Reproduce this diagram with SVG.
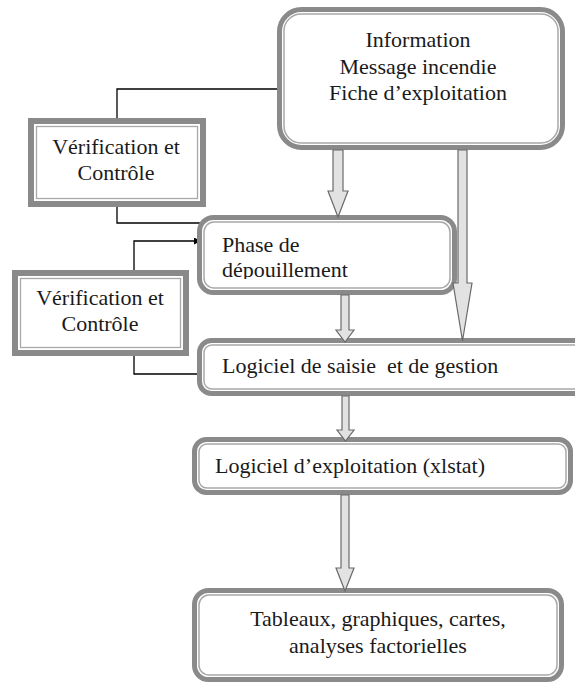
<svg xmlns="http://www.w3.org/2000/svg" width="575" height="685" viewBox="0 0 575 685">
  <defs>
    <style>
      .ob { fill: #ffffff; stroke: #8a8a8a; stroke-width: 5; }
      .ib { fill: none; stroke: #a8a8a8; stroke-width: 1.5; }
      .sob { fill: #ffffff; stroke: #8a8a8a; stroke-width: 6; }
      .sib { fill: none; stroke: #a8a8a8; stroke-width: 1.3; }
      .t { font-family: 'Liberation Serif', serif; font-size: 22px; fill: #1a1a1a; white-space: pre; }
      .c { text-anchor: middle; }
      .ln { fill: none; stroke: #000000; stroke-width: 1.3; }
      .ba { fill: #e2e2e2; stroke: #6a6a6a; stroke-width: 1.2; stroke-linejoin: miter; }
    </style>
    <marker id="ah" viewBox="0 0 10 10" refX="10" refY="5" markerWidth="7" markerHeight="7" markerUnits="userSpaceOnUse" orient="auto">
      <path d="M0,0 L10,5 L0,10 z" fill="#000000"/>
    </marker>
    <clipPath id="phaseclip">
      <rect x="204" y="222" width="246" height="57"/>
    </clipPath>
  </defs>
  <rect width="575" height="685" fill="#ffffff"/>

  <g id="connectors">
    <polyline class="ln" points="117,118 117,89 277,89"/>
    <polyline class="ln" points="117,207 117,223 201,223"/>
    <polyline class="ln" points="134,270 134,241 201,241" marker-end="url(#ah)"/>
    <polyline class="ln" points="134,356 134,374 198,374"/>
  </g>

  <g id="node-information">
    <rect class="ob" x="279.5" y="9.5" width="283" height="138" rx="22"/>
    <rect class="ib" x="284" y="14" width="274" height="129" rx="17"/>
    <text class="t c" x="418" y="47" font-family="Liberation Serif, serif">Information</text>
    <text class="t c" x="418" y="74" font-family="Liberation Serif, serif">Message incendie</text>
    <text class="t c" x="418" y="100" font-family="Liberation Serif, serif">Fiche d’exploitation</text>
  </g>

  <g id="node-verification-1">
    <rect class="sob" x="31" y="121" width="172" height="83"/>
    <rect class="sib" x="36.5" y="126.5" width="161" height="72"/>
    <text class="t c" x="116" y="154">Vérification et</text>
    <text class="t c" x="116" y="180">Contrôle</text>
  </g>

  <g id="node-verification-2">
    <rect class="sob" x="15" y="273" width="171" height="80"/>
    <rect class="sib" x="20.5" y="278.5" width="160" height="69"/>
    <text class="t c" x="100" y="305">Vérification et</text>
    <text class="t c" x="100" y="331">Contrôle</text>
  </g>

  <g id="node-phase">
    <rect class="ob" x="199.5" y="217.5" width="255" height="75" rx="14"/>
    <rect class="ib" x="204" y="222" width="246" height="66" rx="10"/>
    <g clip-path="url(#phaseclip)">
      <text class="t" x="222" y="252">Phase de</text>
      <text class="t" x="222" y="277">dépouillement</text>
    </g>
  </g>

  <g id="node-saisie">
    <rect class="ob" x="199.5" y="340.5" width="390" height="53" rx="12"/>
    <rect class="ib" x="204" y="345" width="381" height="44" rx="8"/>
    <text class="t" x="222" y="373">Logiciel de saisie  et de gestion</text>
  </g>

  <g id="node-exploitation">
    <rect class="ob" x="194.5" y="439.5" width="376" height="53" rx="12"/>
    <rect class="ib" x="199" y="444" width="367" height="44" rx="8"/>
    <text class="t" x="215" y="473">Logiciel d’exploitation (xlstat)</text>
  </g>

  <g id="node-resultats">
    <rect class="ob" x="194.5" y="590.5" width="367" height="89" rx="14"/>
    <rect class="ib" x="199" y="595" width="358" height="80" rx="10"/>
    <text class="t c" x="378" y="626">Tableaux, graphiques, cartes,</text>
    <text class="t c" x="378" y="653">analyses factorielles</text>
  </g>

  <g id="block-arrows">
    <polygon class="ba" points="333,150 343,150 343,191 348,191 338,217 328,191 333,191"/>
    <polygon class="ba" points="458,150 467,150 467,283 472,283 462.5,341 453,283 458,283"/>
    <polygon class="ba" points="341,295 349,295 349,330 354,330 345,342 336,330 341,330"/>
    <polygon class="ba" points="342,396 349,396 349,430 354,430 345.5,441 337,430 342,430"/>
    <polygon class="ba" points="341,495 349,495 349,568 354,568 345,591 336,568 341,568"/>
  </g>
</svg>
